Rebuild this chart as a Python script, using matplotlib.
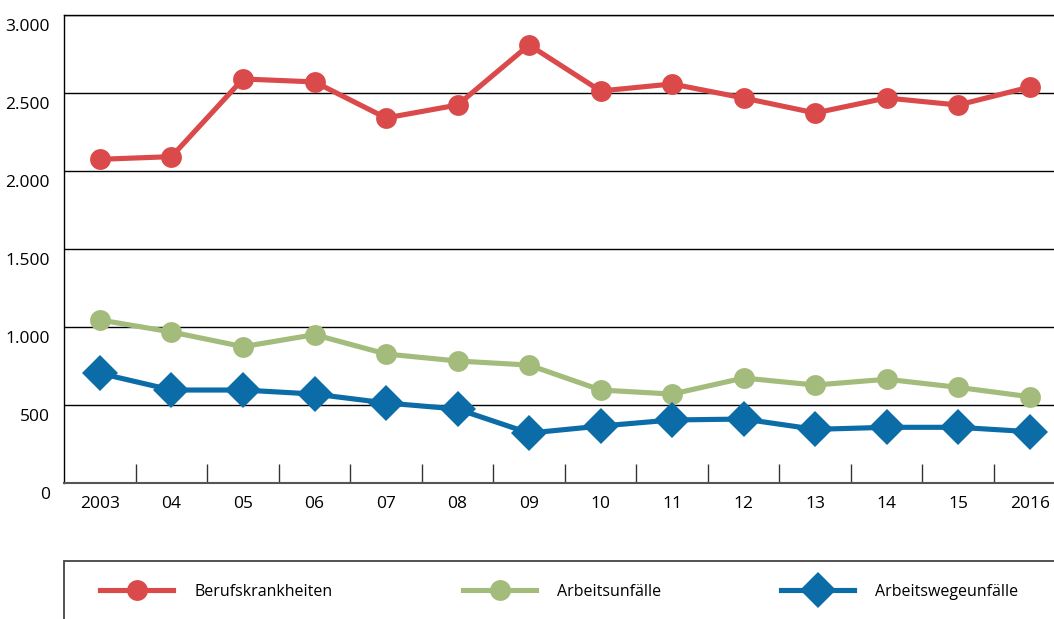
import matplotlib
matplotlib.use("Agg")
import matplotlib.pyplot as plt
from matplotlib.patches import Rectangle
import matplotlib.transforms as mtrans

plt.rcParams['font.family'] = ['Open Sans', 'DejaVu Sans']

years = ["2003", "04", "05", "06", "07", "08", "09", "10", "11", "12", "13", "14", "15", "2016"]
berufskrankheiten = [2075, 2092, 2590, 2571, 2340, 2423, 2808, 2513, 2558, 2468, 2372, 2468, 2423, 2538]
arbeitsunfaelle = [1045, 968, 874, 951, 827, 782, 756, 596, 570, 673, 628, 665, 613, 553]
arbeitswegeunfaelle = [703, 596, 596, 570, 513, 474, 320, 365, 404, 410, 344, 357, 357, 329]
series_names = ["Berufskrankheiten", "Arbeitsunfälle", "Arbeitswegeunfälle"]
yticks = [0, 500, 1000, 1500, 2000, 2500, 3000]
ytick_labels = ["0", "500", "1.000", "1.500", "2.000", "2.500", "3.000"]

RED = "#DA4A4B"
GREEN = "#A3BB7B"
BLUE = "#0B6CA8"

W, H = 1054, 619
fig = plt.figure(figsize=(W / 100, H / 100), dpi=100)
ax = fig.add_axes([64 / W, (H - 483) / H, (W - 64) / W, (483 - 15) / H])

x = list(range(len(years)))
series = [berufskrankheiten, arbeitsunfaelle, arbeitswegeunfaelle]
colors = [RED, GREEN, BLUE]
markers = ['o', 'o', 'D']
msizes = [15, 15, 18.5]
handles = []
for vals, c, m, ms, name in zip(series, colors, markers, msizes, series_names):
    h, = ax.plot(x, vals, color=c, lw=3.7, marker=m, markersize=ms,
                 markeredgewidth=0, solid_joinstyle='round', label=name, zorder=3)
    handles.append(h)

ax.set_xlim(-0.503, 13.34)
ax.set_ylim(0, 3000)
ax.set_yticks(yticks)
ax.set_yticklabels(ytick_labels)
ax.grid(axis='y', color='black', lw=1, zorder=1)
ax.set_axisbelow(True)

ax.set_xticks(x)
ax.set_xticklabels(years)
ax.set_xticks([i + 0.5 for i in x[:-1]], minor=True)
ax.tick_params(axis='x', which='major', length=0, pad=9, labelsize=12.5)
ax.tick_params(axis='x', which='minor', direction='in', length=13.5, width=1, color='#333333')
ax.tick_params(axis='y', which='major', length=0, pad=10, labelsize=12.5)

offset = mtrans.ScaledTranslation(0, -10 / 100, fig.dpi_scale_trans)
for lab in ax.get_yticklabels():
    lab.set_transform(lab.get_transform() + offset)

ax.spines['right'].set_visible(False)
ax.spines['top'].set_color('black')
ax.spines['top'].set_linewidth(1)
ax.spines['left'].set_color('black')
ax.spines['left'].set_linewidth(1)
ax.spines['bottom'].set_color('#555555')
ax.spines['bottom'].set_linewidth(1.5)

# legend box
fig.add_artist(Rectangle((64 / W, -0.2), 1.0, (H - 560.5) / H + 0.2,
                         transform=fig.transFigure, fill=False,
                         edgecolor='#444444', lw=1.3, clip_on=False))

leg_pos = [100, 463, 781]
for h, px in zip(handles, leg_pos):
    fig.legend(handles=[h], labels=[h.get_label()], loc='center left',
               bbox_to_anchor=(px / W, (H - 592) / H), frameon=False,
               borderpad=0, borderaxespad=0, handlelength=4.6,
               handletextpad=1.3, fontsize=11.5, markerscale=1.0)

fig.savefig("out.png", dpi=100)
